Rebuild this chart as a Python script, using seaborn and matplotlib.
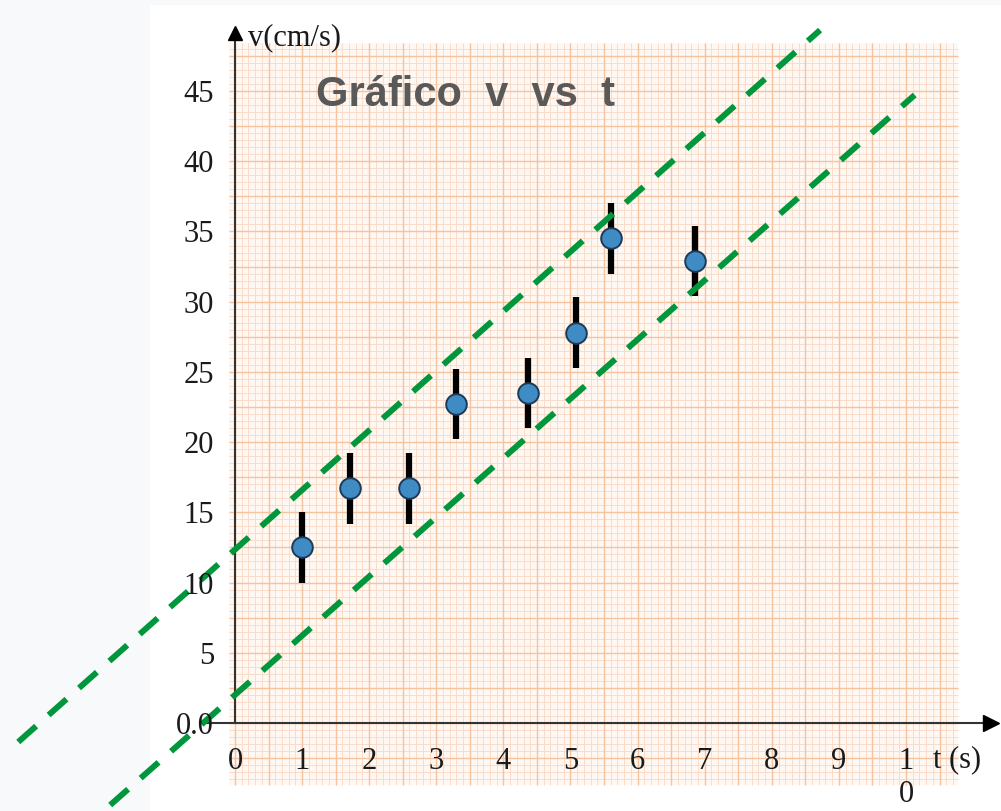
import numpy as np
import matplotlib
matplotlib.use("Agg")
import matplotlib.pyplot as plt
from matplotlib.patches import Rectangle
import seaborn as sns

# ---- data ----
t_vals = [1.00, 1.71, 2.60, 3.29, 4.37, 5.08, 5.61, 6.85]
v_vals = [12.5, 16.7, 16.7, 22.7, 23.5, 27.8, 34.5, 32.9]
v_err = [2.5, 2.5, 2.5, 2.5, 2.5, 2.5, 2.5, 2.5]

upper_t = [-3.23, 8.72]
upper_v = [-1.35, 49.34]
lower_t = [-1.86, 10.13]
lower_v = [-5.84, 44.72]

x_ticks = [0, 1, 2, 3, 4, 5, 6, 7, 8, 9, 10]
x_ticklabels = ["0", "1", "2", "3", "4", "5", "6", "7", "8", "9", "1\n0"]
y_ticks = [0, 5, 10, 15, 20, 25, 30, 35, 40, 45]
y_ticklabels = ["0.0", "5", "10", "15", "20", "25", "30", "35", "40", "45"]

title_text = "Gráfico  v  vs  t"
y_label = "v(cm/s)"
x_label = "t (s)"

# ---- figure ----
sns.set_style("white")
plt.rcParams["font.family"] = ["Liberation Serif", "DejaVu Serif"]

W, H = 1001, 811
fig = plt.figure(figsize=(W / 100, H / 100), dpi=100, facecolor="#f8f9fa")
ax = fig.add_axes([0, 0, 1, 1])
ax.set_facecolor("none")

# pixel mapping: t=0 at x=235, 67.1 px/unit ; v=0 at y=723, 14.044 px/unit
ax.set_xlim(-235 / 67.1, (W - 235) / 67.1)
ax.set_ylim((723 - H) / 14.044, 723 / 14.044)

# white page
ax.add_patch(Rectangle((150 / W, 0), 1 - 150 / W, (H - 5) / H, transform=ax.transAxes,
                       facecolor="white", edgecolor="none", zorder=0))

# graph paper
p_t0, p_t1 = -0.09, 10.77
p_v0, p_v1 = -4.4, 48.4
ax.add_patch(Rectangle((p_t0, p_v0), p_t1 - p_t0, p_v1 - p_v0, facecolor="#fff7f1",
                       edgecolor="none", zorder=0.5))
minor_t = np.arange(0, p_t1, 0.1)
minor_v = np.arange(-4.0, p_v1, 0.5)
ax.vlines(minor_t, p_v0, p_v1, color="#f9ddc9", lw=0.7, zorder=0.6)
ax.hlines(minor_v, p_t0, p_t1, color="#f9ddc9", lw=0.7, zorder=0.6)
major_t = np.arange(0, p_t1, 0.5)
major_v = np.arange(-2.5, p_v1, 2.5)
ax.vlines(major_t, p_v0, p_v1, color="#f4c3a0", lw=1.0, zorder=0.7)
ax.hlines(major_v, p_t0, p_t1, color="#f4c3a0", lw=1.0, zorder=0.7)

# axes spines as arrows through origin
axis_col = "#333333"
for s in ["top", "right"]:
    ax.spines[s].set_visible(False)
ax.spines["left"].set_position(("data", 0))
ax.spines["bottom"].set_position(("data", 0))
ax.spines["left"].set_bounds(0, 48.9)
ax.spines["bottom"].set_bounds(-0.45, 11.15)
for s in ["left", "bottom"]:
    ax.spines[s].set_color(axis_col)
    ax.spines[s].set_linewidth(1.5)
    ax.spines[s].set_zorder(2.5)
ax.plot([11.26], [0], marker=">", ms=11, color="black", clip_on=False, zorder=3)
ax.plot([0], [49.1], marker="^", ms=10, color="black", clip_on=False, zorder=3)

ax.set_xticks(x_ticks)
ax.set_xticklabels(x_ticklabels, linespacing=1.15)
ax.set_yticks(y_ticks)
ax.set_yticklabels(y_ticklabels)
ax.tick_params(axis="x", direction="inout", length=7, width=1.2, color=axis_col,
               labelsize=22, pad=14, labelcolor="#1a1a1a")
ax.tick_params(axis="y", direction="out", length=13, width=1.2, color=axis_col,
               labelsize=22, pad=2, labelcolor="#1a1a1a")
ax.xaxis.set_zorder(6)
ax.yaxis.set_zorder(6)

# error bars
ax.vlines(t_vals, np.array(v_vals) - np.array(v_err), np.array(v_vals) + np.array(v_err),
          color="black", lw=4.5, zorder=3)
# points
sns.scatterplot(x=t_vals, y=v_vals, ax=ax, s=220, color="#3f8cc4", edgecolor="#1d3a58",
                linewidth=1.4, zorder=4, legend=False)

# dashed boundary lines
green = "#00963c"
for lt, lv in [(upper_t, upper_v), (lower_t, lower_v)]:
    sns.lineplot(x=lt, y=lv, ax=ax, color=green, lw=4.3, linestyle=(0, (4, 2.8)),
                 sort=False, zorder=5, clip_on=False)

# texts
ax.text(0.19, 48.8, y_label, fontsize=22, va="center", ha="left", color="#1a1a1a")
ax.text(10.40, -2.63, x_label, fontsize=22, va="center", ha="left", color="#1a1a1a")
ax.text(1.207, 44.7, title_text, fontsize=30, fontweight="bold", va="center", ha="left",
        color="#595959", family=["Liberation Sans", "DejaVu Sans"])

ax.set_xlabel("")
ax.set_ylabel("")
fig.savefig("out.png", dpi=100, facecolor=fig.get_facecolor())
